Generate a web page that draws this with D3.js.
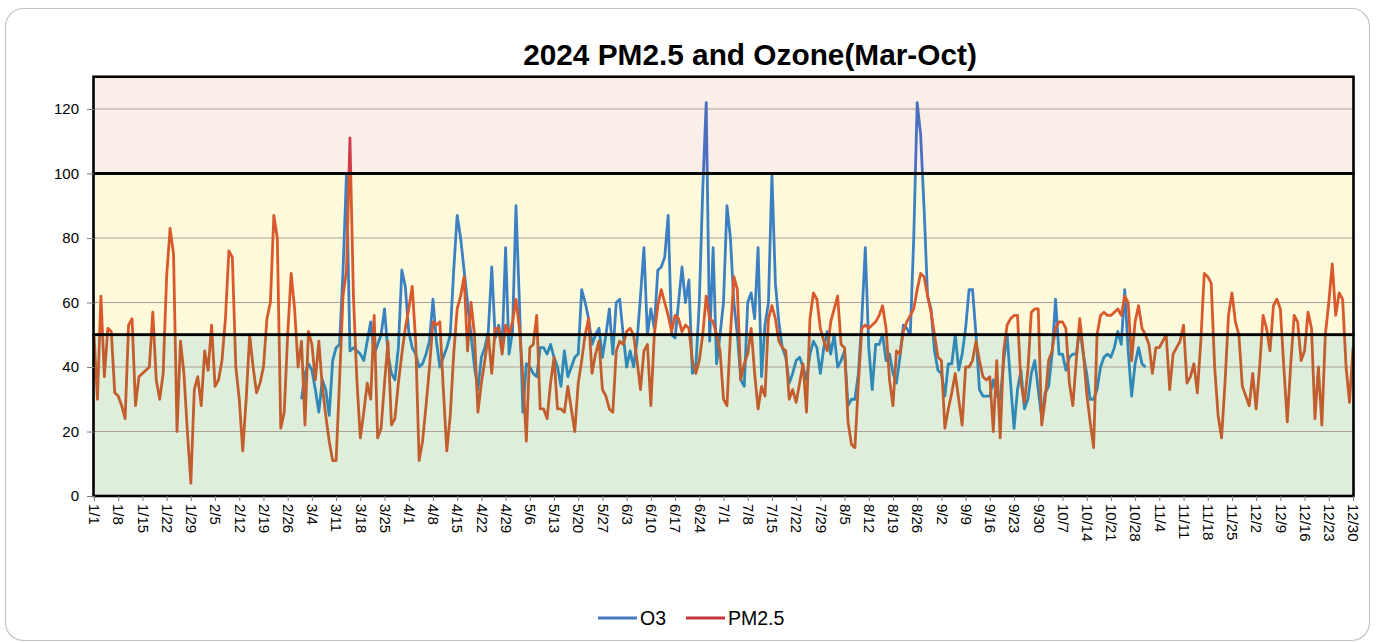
<!DOCTYPE html>
<html>
<head>
<meta charset="utf-8">
<script src="https://cdn.jsdelivr.net/npm/d3@7/dist/d3.min.js"></script>
<style>
  body { margin: 0; background: #ffffff; }
  svg { display: block; }
  text { font-family: "Liberation Sans", Arial, sans-serif; fill: #000; }
</style>
</head>
<body>
<svg id="chart" width="1378" height="643"></svg>
<script>
// ---- data -------------------------------------------------------------
const chartTitle = "2024 PM2.5 and Ozone(Mar-Oct)";

// one category per day, 1/1 .. 12/30 of 2024
const categories = d3.range(365).map(i => new Date(2024, 0, 1 + i));

// daily PM2.5 AQI, 1/1 .. 12/30
const pm25 = [
  50, 30, 62, 37, 52, 51, 32, 31, 28, 24,
  53, 55, 28, 37, 38, 39, 40, 57, 36, 30,
  38, 68, 83, 75, 20, 48, 38, 20,  4, 33,
  37, 28, 45, 39, 53, 34, 36, 42, 55, 76,
  74, 40, 30, 14, 30, 50, 40, 32, 35, 40,
  55, 60, 87, 80, 21, 26, 50, 69, 58, 40,
  48, 22, 51, 47, 36, 48, 34, 25, 17, 11,
  11, 36, 62, 70,111, 62, 36, 18, 26, 35,
  30, 56, 18, 21, 35, 48, 22, 24, 35, 44,
  52, 58, 65, 48, 11, 17, 28, 40, 54, 53,
  54, 33, 14, 25, 44, 58, 62, 68, 45, 60,
  50, 26, 35, 42, 50, 38, 52, 52, 44, 53,
  50, 54, 61, 52, 37, 17, 46, 47, 56, 27,
  27, 24, 35, 43, 27, 27, 26, 34, 27, 20,
  35, 42, 50, 55, 38, 44, 48, 33, 31, 27,
  26, 45, 48, 47, 51, 52, 50, 42, 33, 45,
  47, 28, 50, 59, 64, 60, 56, 51, 56, 55,
  51, 53, 52, 42, 38, 42, 50, 62, 55, 54,
  50, 45, 30, 28, 50, 68, 64, 36, 41, 44,
  52, 38, 27, 34, 31, 55, 59, 55, 48, 46,
  45, 30, 33, 29, 35, 41, 26, 55, 63, 61,
  52, 48, 45, 54, 58, 62, 47, 46, 23, 16,
  15, 35, 52, 53, 52, 53, 54, 56, 59, 52,
  36, 28, 45, 44, 51, 54, 56, 58, 64, 69,
  68, 62, 57, 50, 43, 42, 21, 27, 32, 38,
  30, 22, 40, 40, 42, 48, 42, 37, 36, 37,
  20, 42, 18, 45, 53, 55, 56, 56, 35, 29,
  39, 57, 58, 58, 22, 30, 42, 45, 52, 54,
  54, 52, 35, 28, 42, 55, 45, 32, 23, 15,
  50, 56, 57, 56, 56, 57, 58, 56, 62, 60,
  42, 54, 59, 52, 50, 47, 38, 46, 46, 48,
  50, 33, 44, 46, 48, 53, 35, 37, 41, 32,
  48, 69, 68, 66, 40, 25, 18, 35, 56, 63,
  54, 50, 34, 31, 28, 38, 27, 40, 56, 52,
  45, 59, 61, 58, 40, 23, 41, 56, 54, 42,
  45, 57, 52, 24, 40, 22, 50, 60, 72, 56,
  63, 61, 40, 29, 46
];

// daily ozone AQI, monitored 3/1 .. 10/31 only
const o3FirstDay = 60;
const o3 = [
  30, 38, 41, 39, 33, 26, 36, 33, 25, 42,
  46, 47, 70,100, 45, 46, 45, 44, 42, 48,
  54, 44, 47, 50, 58, 44, 38, 36, 46, 70,
  65, 51, 46, 44, 40, 41, 44, 48, 61, 48,
  40, 43, 46, 50, 70, 87, 80, 70, 60, 50,
  40, 33, 43, 46, 51, 71, 49, 53, 46, 77,
  44, 51, 90, 60, 26, 41, 40, 38, 37, 46,
  46, 44, 47, 43, 40, 34, 45, 37, 40, 43,
  44, 64, 60, 55, 47, 50, 52, 43, 50, 58,
  44, 60, 61, 50, 40, 45, 40, 48, 62, 77,
  50, 58, 52, 70, 71, 74, 87, 50, 49, 60,
  71, 60, 67, 38, 40, 60, 95,122, 48, 77,
  41, 50, 60, 90, 80, 60, 50, 36, 34, 60,
  63, 55, 77, 37, 53, 60,100, 66, 54, 46,
  43, 35, 38, 42, 43, 40, 36, 44, 48, 46,
  38, 46, 51, 44, 50, 40, 42, 45, 28, 30,
  30, 38, 55, 77, 46, 33, 47, 47, 50, 42,
  44, 38, 35, 43, 53, 52, 50, 80,122,112,
  89, 62, 58, 45, 39, 38, 31, 41, 41, 50,
  39, 44, 52, 64, 64, 50, 33, 31, 31, 31,
  36, 31, 30, 42, 50, 35, 21, 33, 39, 27,
  30, 38, 42, 33, 24, 32, 34, 44, 61, 44,
  44, 39, 43, 44, 44, 52, 44, 38, 30, 30,
  33, 40, 43, 44, 43, 46, 51, 47, 64, 45,
  31, 41, 46, 41, 40
];

const yTicks = [0, 20, 40, 60, 80, 100, 120];
const yMax = 130;

// weekly category labels
const xTickLabels = [
  "1/1","1/8","1/15","1/22","1/29","2/5","2/12","2/19","2/26","3/4","3/11",
  "3/18","3/25","4/1","4/8","4/15","4/22","4/29","5/6","5/13","5/20","5/27",
  "6/3","6/10","6/17","6/24","7/1","7/8","7/15","7/22","7/29","8/5","8/12",
  "8/19","8/26","9/2","9/9","9/16","9/23","9/30","10/7","10/14","10/21",
  "10/28","11/4","11/11","11/18","11/25","12/2","12/9","12/16","12/23","12/30"
];

// AQI category limits shaded behind the series
const bandLimits = [0, 50, 100, 130];

const seriesNames = ["O3", "PM2.5"];

// ---- drawing ----------------------------------------------------------
const svg = d3.select("#chart");
const plot = { left: 94, right: 1353, top: 76.75, bottom: 496 };

const x = d3.scaleLinear().domain([0, categories.length - 1]).range([plot.left, plot.right]);
const y = d3.scaleLinear().domain([0, yMax]).range([plot.bottom, plot.top]);

// legend colours, and the tinted look each line takes on inside the
// good / moderate / unhealthy bands
const colO3 = "#4677BE";
const colPM = "#C8373E";
const o3BandColors = ["#2F88B6", "#3C80C4", "#4A6FC0"];
const pmBandColors = ["#C25E2E", "#D9592C", "#D23A4A"];
const bandFills = ["#DFEEDB", "#FDFADC", "#FAEEE8"];

// outer chart frame
svg.append("rect")
  .attr("x", 5.5).attr("y", 8.5).attr("width", 1364).attr("height", 632)
  .attr("rx", 18).attr("ry", 18)
  .attr("fill", "#ffffff").attr("stroke", "#c4c4c4").attr("stroke-width", 1.2);

// title
svg.append("text")
  .attr("x", 750).attr("y", 65)
  .attr("text-anchor", "middle")
  .style("font-size", "29.8px").style("font-weight", "bold")
  .text(chartTitle);

const bands = d3.pairs(bandLimits);

// band fills
svg.append("g").selectAll("rect")
  .data(bands)
  .join("rect")
  .attr("x", plot.left).attr("width", plot.right - plot.left)
  .attr("y", d => y(d[1])).attr("height", d => y(d[0]) - y(d[1]))
  .attr("fill", (d, i) => bandFills[i]);

// horizontal gridlines
svg.append("g").selectAll("line")
  .data(yTicks.filter(v => v > 0))
  .join("line")
  .attr("x1", plot.left).attr("x2", plot.right)
  .attr("y1", d => y(d)).attr("y2", d => y(d))
  .attr("stroke", "#aaa196").attr("stroke-width", 1);

// one clip region per band so each line can be tinted band by band
const defs = svg.append("defs");
bands.forEach((b, i) => {
  const top = i === bands.length - 1 ? 0 : y(b[1]);
  const bottom = i === 0 ? 643 : y(b[0]);
  defs.append("clipPath").attr("id", "band" + i)
    .append("rect")
    .attr("x", plot.left - 4).attr("width", plot.right - plot.left + 8)
    .attr("y", top).attr("height", bottom - top);
});

const pmLine = d3.line().x((d, i) => x(i)).y(d => y(d));
const o3Line = d3.line().x((d, i) => x(i + o3FirstDay)).y(d => y(d));

bands.forEach((b, i) => {
  svg.append("path").datum(o3)
    .attr("d", o3Line)
    .attr("clip-path", `url(#band${i})`)
    .attr("fill", "none").attr("stroke", o3BandColors[i]).attr("stroke-width", 2.8)
    .attr("stroke-linejoin", "round");
});
bands.forEach((b, i) => {
  svg.append("path").datum(pm25)
    .attr("d", pmLine)
    .attr("clip-path", `url(#band${i})`)
    .attr("fill", "none").attr("stroke", pmBandColors[i]).attr("stroke-width", 2.8)
    .attr("stroke-linejoin", "round");
});

// band outlines
svg.append("g").selectAll("rect")
  .data(bands)
  .join("rect")
  .attr("x", plot.left - 0.5).attr("width", plot.right - plot.left + 1)
  .attr("y", d => y(d[1])).attr("height", d => y(d[0]) - y(d[1]))
  .attr("fill", "none").attr("stroke", "#000").attr("stroke-width", 2.6);

// y axis
const yAxis = svg.append("g")
  .attr("transform", `translate(${plot.left},0)`)
  .call(d3.axisLeft(y).tickValues(yTicks).tickSize(7).tickPadding(8));
yAxis.select(".domain").remove();
yAxis.selectAll(".tick line").attr("stroke", "#7a7a7a");
yAxis.selectAll(".tick text")
  .style("font-size", "15px").style("font-family", "'Liberation Sans', Arial, sans-serif")
  .attr("fill", "#000");

// x axis: weekly ticks, labels turned to read downward
const tickDays = xTickLabels.map((_, i) => i * 7);
const xAxis = svg.append("g")
  .attr("transform", `translate(0,${plot.bottom})`)
  .call(d3.axisBottom(x).tickValues(tickDays).tickSize(5)
    .tickFormat((d, i) => xTickLabels[i]));
xAxis.select(".domain").remove();
xAxis.selectAll(".tick line").attr("stroke", "#7a7a7a");
xAxis.selectAll(".tick text")
  .attr("transform", "rotate(90)")
  .attr("x", 8).attr("y", 0).attr("dy", "0.35em")
  .attr("text-anchor", "start")
  .style("font-size", "15px").style("font-family", "'Liberation Sans', Arial, sans-serif")
  .attr("fill", "#000");

// legend
const legend = svg.append("g").attr("transform", "translate(598,618)");
const legendItems = [
  { name: seriesNames[0], color: colO3, x: 0 },
  { name: seriesNames[1], color: colPM, x: 88 }
];
legendItems.forEach(it => {
  legend.append("line")
    .attr("x1", it.x).attr("x2", it.x + 39).attr("y1", 0).attr("y2", 0)
    .attr("stroke", it.color).attr("stroke-width", 3);
  legend.append("text")
    .attr("x", it.x + 42).attr("y", 0).attr("dy", "0.35em")
    .style("font-size", "19.5px")
    .text(it.name);
});
</script>
</body>
</html>
